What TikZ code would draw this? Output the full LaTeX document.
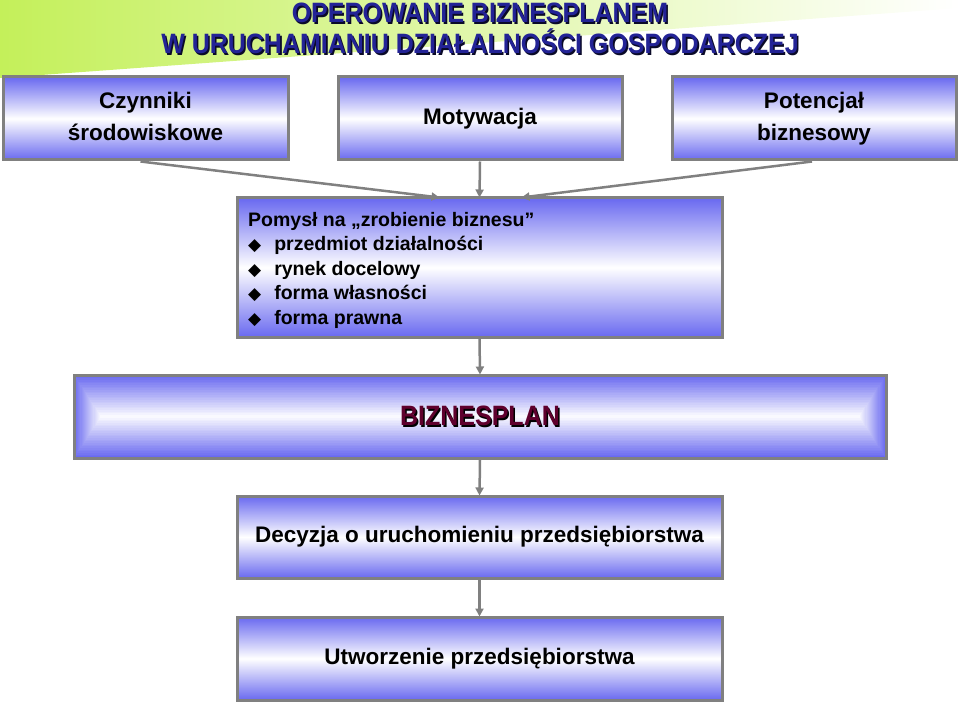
\documentclass[tikz,border=0pt]{standalone}
\usepackage{fontspec}
\setmainfont{Liberation Sans}
\newfontfamily\dej{DejaVu Sans}
\usetikzlibrary{arrows.meta}
\definecolor{boxblue}{RGB}{105,105,240}
\definecolor{edgegray}{RGB}{128,128,128}
\definecolor{titlegreen}{RGB}{196,240,90}
\definecolor{navy}{RGB}{35,35,150}
\definecolor{shadowc}{RGB}{10,10,40}
\definecolor{maroon}{RGB}{95,0,45}
\newcommand{\shtext}[3]{\rlap{\raisebox{-#3}{\kern#3\textcolor{#2}{#1}}}#1}
\tikzset{
  box/.style={draw=edgegray, line width=3pt, top color=boxblue, bottom color=boxblue, middle color=white, inner sep=0pt, align=center},
  boxtext/.style={font=\bfseries\fontsize{22.5}{32}\selectfont},
  arr/.style={draw=edgegray, line width=2.5pt, -{Triangle[length=8pt,width=8pt]}},
  titlefont/.style={font=\bfseries\fontsize{25}{28}\selectfont},
}
\begin{document}
\begin{tikzpicture}[x=1pt,y=-1pt]
\useasboundingbox (0,0) rectangle (960,703);
% title band
\shade[left color=titlegreen, right color=white] (0,0) -- (960,0) -- (960,8) -- (0,78) -- cycle;
\node[titlefont, text=navy, yscale=1.12] (t1) at (480,14) {\shtext{OPEROWANIE BIZNESPLANEM}{shadowc}{1.6pt}};
\node[titlefont, text=navy, yscale=1.12] (t2) at (480,42) {\shtext{W URUCHAMIANIU DZIAŁALNOŚCI GOSPODARCZEJ}{shadowc}{1.6pt}};
% top boxes
\node[box, boxtext, minimum width=285pt, minimum height=83pt] (czy) at (145.5,118.5) {Czynniki\\środowiskowe\vphantom{y}};
\node[box, boxtext, minimum width=284pt, minimum height=83pt] (mot) at (480,118.5) {Motywacja};
\node[box, boxtext, minimum width=284pt, minimum height=83pt] (pot) at (814,118.5) {Potencjał\\biznesowy};
% idea box
\node[box, minimum width=485pt, minimum height=139pt] (pom) at (479.5,267.5) {};
\node[anchor=north west, align=left, inner sep=0pt, font=\bfseries\fontsize{19.5}{24.5}\selectfont] (pomtxt) at (248,212)
 {Pomysł na „zrobienie biznesu”\\
  {\dej\fontsize{17}{24.5}\selectfont ◆}\hspace{13pt}przedmiot działalności\\
  {\dej\fontsize{17}{24.5}\selectfont ◆}\hspace{13pt}rynek docelowy\\
  {\dej\fontsize{17}{24.5}\selectfont ◆}\hspace{13pt}forma własności\\
  {\dej\fontsize{17}{24.5}\selectfont ◆}\hspace{13pt}forma prawna};
% biznesplan box with rectangular gradient
\foreach \i in {0,...,24} {
  \pgfmathsetmacro\tt{\i*41.5/25}
  \pgfmathsetmacro\ss{\i*27/25}
  \pgfmathtruncatemacro\pp{100-\i*4}
  \fill[boxblue!\pp!white] (74+\ss,375+\tt) rectangle (886-\ss,458-\tt);
}
\node[draw=edgegray, line width=3pt, minimum width=812pt, minimum height=83pt, inner sep=0pt] (biz) at (480,416.5) {};
\node[font=\bfseries\fontsize{25}{28}\selectfont, text=maroon, yscale=1.12] (biztxt) at (480,417) {\shtext{BIZNESPLAN}{black}{1.5pt}};
% decision boxes
\node[box, boxtext, minimum width=485pt, minimum height=82pt] (dec) at (479.5,537) {Decyzja o uruchomieniu przedsiębiorstwa};
\node[box, boxtext, minimum width=485pt, minimum height=83pt] (utw) at (479.5,658.5) {Utworzenie przedsiębiorstwa};
% arrows
\draw[arr] ([xshift=-5pt]czy.south) -- ([xshift=-40pt,yshift=-1pt]pom.north);
\draw[arr] (mot.south) -- ([yshift=-1pt]pom.north);
\draw[arr] ([xshift=-2pt]pot.south) -- ([xshift=42pt,yshift=-1pt]pom.north);
\draw[arr] (pom.south) -- ([yshift=-1pt]biz.north);
\draw[arr] (biz.south) -- ([yshift=-1pt]dec.north);
\draw[arr] (dec.south) -- ([yshift=-1pt]utw.north);
\end{tikzpicture}
\end{document}
